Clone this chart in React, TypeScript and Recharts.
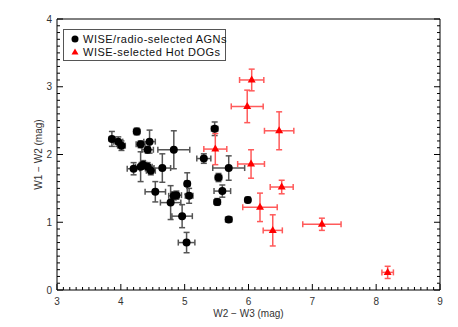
import { ErrorBar, Label, Legend, Scatter, ScatterChart, XAxis, YAxis } from "recharts";

// WISE/radio-selected AGNs
const agnX = [3.86, 3.96, 4.01, 4.25, 4.31, 4.45, 4.42, 4.83, 4.2, 4.31, 4.35, 4.42, 4.47, 4.65, 4.54, 5.04, 4.87, 4.83, 5.07, 4.78, 4.96, 5.03, 5.47, 5.3, 5.69, 5.53, 5.59, 5.51, 5.99, 5.69];
const agnY = [2.23, 2.19, 2.13, 2.34, 2.15, 2.19, 2.07, 2.07, 1.79, 1.82, 1.85, 1.82, 1.76, 1.8, 1.45, 1.57, 1.4, 1.39, 1.39, 1.29, 1.09, 0.7, 2.38, 1.94, 1.8, 1.66, 1.46, 1.3, 1.33, 1.04];
const agnXErr = [0.04, 0.07, 0.06, 0.05, 0.07, 0.09, 0.09, 0.25, 0.1, 0.08, 0.06, 0.07, 0.07, 0.13, 0.16, 0.04, 0.08, 0.08, 0.06, 0.16, 0.16, 0.13, 0.05, 0.11, 0.25, 0.05, 0.13, 0.05, 0.04, 0.05];
const agnYErr = [0.11, 0.07, 0.07, 0.05, 0.05, 0.17, 0.05, 0.28, 0.09, 0.22, 0.06, 0.06, 0.06, 0.21, 0.15, 0.16, 0.06, 0.06, 0.11, 0.25, 0.17, 0.15, 0.1, 0.07, 0.18, 0.06, 0.09, 0.05, 0.04, 0.04];

// WISE-selected Hot DOGs
const dogX = [6.05, 5.98, 6.48, 5.48, 6.04, 6.52, 6.18, 6.38, 7.15, 8.18];
const dogY = [3.1, 2.71, 2.35, 2.08, 1.86, 1.52, 1.22, 0.88, 0.97, 0.26];
const dogXErr = [0.19, 0.25, 0.23, 0.18, 0.21, 0.18, 0.27, 0.15, 0.3, 0.09];
const dogYErr = [0.16, 0.24, 0.28, 0.23, 0.21, 0.1, 0.21, 0.23, 0.09, 0.09];

const legendNames = ["WISE/radio-selected AGNs", "WISE-selected Hot DOGs"];
const xTitle = "W2 \u2212 W3 (mag)";
const yTitle = "W1 \u2212 W2 (mag)";
const xDomain = [3, 9];
const yDomain = [0, 4];

const font = "'Liberation Sans', Arial, sans-serif";

const agnData = agnX.map((x, i) => ({ x, y: agnY[i], ex: agnXErr[i], ey: agnYErr[i] }));
const dogData = dogX.map((x, i) => ({ x, y: dogY[i], ex: dogXErr[i], ey: dogYErr[i] }));

// minor ticks every 0.1
const steps = (lo: number, hi: number) =>
  Array.from({ length: Math.round((hi - lo) * 10) + 1 }, (_, i) => Math.round(lo * 10 + i) / 10);
const xTicks = steps(xDomain[0], xDomain[1]);
const yTicks = steps(yDomain[0], yDomain[1]);

const isMajor = (v: number) => Math.abs(v - Math.round(v)) < 1e-6;
const tickLen = (v: number) => (isMajor(v) ? 6 : 3);

const BottomTick = ({ x, y, payload }: any) => (
  <g>
    <line x1={x} y1={y} x2={x} y2={y - tickLen(payload.value)} stroke="#000" />
    {isMajor(payload.value) && (
      <text x={x} y={y + 14.5} textAnchor="middle" fontSize={10} fontFamily={font} fill="#333">
        {payload.value}
      </text>
    )}
  </g>
);

const TopTick = ({ x, y, payload }: any) => (
  <line x1={x} y1={y} x2={x} y2={y + tickLen(payload.value)} stroke="#000" />
);

const LeftTick = ({ x, y, payload }: any) => (
  <g>
    <line x1={x} y1={y} x2={x + tickLen(payload.value)} y2={y} stroke="#000" />
    {isMajor(payload.value) && (
      <text x={x - 5} y={y + 3.5} textAnchor="end" fontSize={10} fontFamily={font} fill="#333">
        {payload.value}
      </text>
    )}
  </g>
);

const RightTick = ({ x, y, payload }: any) => (
  <line x1={x} y1={y} x2={x - tickLen(payload.value)} y2={y} stroke="#000" />
);

const Dot = ({ cx, cy }: any) => <circle cx={cx} cy={cy} r={4} fill="#000" />;

const Tri = ({ cx, cy }: any) => (
  <polygon points={`${cx},${cy - 4.5} ${cx - 4},${cy + 2.5} ${cx + 4},${cy + 2.5}`} fill="#ff0000" />
);

const renderLegend = () => (
  <div
    style={{
      border: "1px solid #555",
      background: "#fff",
      padding: "3px 1px 2px 6px",
      fontFamily: font,
      fontSize: 11,
      letterSpacing: 0.5,
      color: "#111",
      boxSizing: "border-box",
      width: 163,
    }}
  >
    {legendNames.map((name, i) => (
      <div key={name} style={{ display: "flex", alignItems: "center", height: 12.4, whiteSpace: "nowrap" }}>
        <svg width={10} height={10} style={{ flexShrink: 0 }}>
          {i === 0 ? (
            <circle cx={5} cy={5} r={3.5} fill="#000" />
          ) : (
            <polygon points="5,1.5 1.5,7.5 8.5,7.5" fill="#ff0000" />
          )}
        </svg>
        <span style={{ marginLeft: 3 }}>{name}</span>
      </div>
    ))}
  </div>
);

export default function App() {
  return (
    <div style={{ position: "absolute", left: 0, top: 0, width: 458, height: 327, background: "#fff" }}>
      <ScatterChart width={458} height={327} margin={{ top: 18, right: 17, bottom: 17, left: 27 }}>
        <XAxis
          dataKey="x"
          type="number"
          domain={xDomain}
          allowDataOverflow
          ticks={xTicks}
          interval={0}
          height={20}
          tickSize={0}
          tickMargin={0}
          tickLine={false}
          tick={<BottomTick />}
          axisLine={{ stroke: "#000" }}
        >
          <Label
            content={({ viewBox }: any) => (
              <text
                x={viewBox.x + viewBox.width / 2}
                y={viewBox.y + 26.5}
                textAnchor="middle"
                fontSize={10}
                fontFamily={font}
                fill="#333"
              >
                {xTitle}
              </text>
            )}
          />
        </XAxis>
        <XAxis
          xAxisId="top"
          orientation="top"
          type="number"
          domain={xDomain}
          allowDataOverflow
          ticks={xTicks}
          interval={0}
          height={1}
          tickSize={0}
          tickMargin={0}
          tickLine={false}
          tick={<TopTick />}
          axisLine={{ stroke: "#000" }}
        />
        <YAxis
          dataKey="y"
          type="number"
          domain={yDomain}
          allowDataOverflow
          ticks={yTicks}
          interval={0}
          width={30}
          tickSize={0}
          tickMargin={0}
          tickLine={false}
          tick={<LeftTick />}
          axisLine={{ stroke: "#000" }}
        >
          <Label
            content={({ viewBox }: any) => {
              const cx = viewBox.x + 15;
              const cy = viewBox.y + viewBox.height / 2;
              return (
                <text
                  x={cx}
                  y={cy}
                  transform={`rotate(-90, ${cx}, ${cy})`}
                  textAnchor="middle"
                  fontSize={10}
                  fontFamily={font}
                  fill="#333"
                >
                  {yTitle}
                </text>
              );
            }}
          />
        </YAxis>
        <YAxis
          yAxisId="right"
          orientation="right"
          type="number"
          domain={yDomain}
          allowDataOverflow
          ticks={yTicks}
          interval={0}
          width={1}
          tickSize={0}
          tickMargin={0}
          tickLine={false}
          tick={<RightTick />}
          axisLine={{ stroke: "#000" }}
        />
        <Legend
          layout="vertical"
          align="center"
          verticalAlign="middle"
          content={renderLegend}
          wrapperStyle={{ top: 29, left: 63, width: 163 }}
        />
        <Scatter name={legendNames[0]} data={agnData} fill="#000" shape={<Dot />} isAnimationActive={false}>
          <ErrorBar dataKey="ex" direction="x" width={3} stroke="#555" strokeWidth={1.5} isAnimationActive={false} />
          <ErrorBar dataKey="ey" direction="y" width={3} stroke="#555" strokeWidth={1.5} isAnimationActive={false} />
        </Scatter>
        <Scatter name={legendNames[1]} data={dogData} fill="#ff0000" shape={<Tri />} isAnimationActive={false}>
          <ErrorBar dataKey="ex" direction="x" width={3} stroke="#ff5a5a" strokeWidth={1.5} isAnimationActive={false} />
          <ErrorBar dataKey="ey" direction="y" width={3} stroke="#ff5a5a" strokeWidth={1.5} isAnimationActive={false} />
        </Scatter>
      </ScatterChart>
    </div>
  );
}
